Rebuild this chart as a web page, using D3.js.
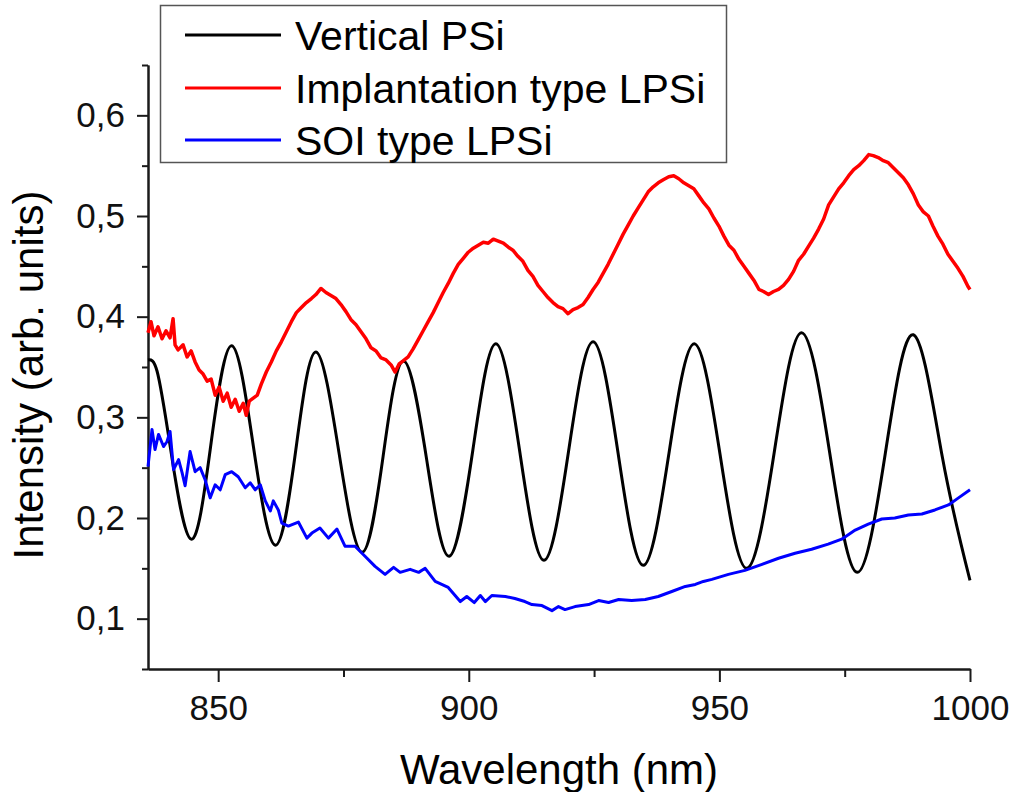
<!DOCTYPE html>
<html>
<meta charset="utf-8">
<head>
<style>
body { margin: 0; background: #fff; }
svg { font-family: "Liberation Sans", Arial, sans-serif; }
.axis path, .axis line { stroke: #1a1a1a; stroke-width: 2px; }
.axis text { fill: #111; font-size: 35px; font-family: "Liberation Sans", Arial, sans-serif; }
.series { fill: none; stroke-width: 3px; stroke-linejoin: round; }
</style>
</head>
<body>
<svg width="1011" height="792"></svg>

<script src="https://cdn.jsdelivr.net/npm/d3@7"></script>

<script>

// ticks
var xMajor = [850, 900, 950, 1000],
    xMinor = [875, 925, 975],
    yMajor = [0.1, 0.2, 0.3, 0.4, 0.5, 0.6],
    yMinor = [0.05, 0.15, 0.25, 0.35, 0.45, 0.55, 0.65];

var seriesNames = ["Vertical PSi", "Implantation type LPSi", "SOI type LPSi"],
    seriesColors = ["#000000", "#ff0000", "#0000ff"];

// Vertical PSi  [wavelength nm, intensity]
var verticalPSi = [
  [836.0,0.357],[837.8,0.346],[840.4,0.272],[844.6,0.179],[848.6,0.275],[852.7,0.371],
  [857.0,0.272],[861.4,0.173],[865.5,0.268],[869.5,0.365],[874.1,0.265],[878.7,0.166],
  [882.9,0.261],[887.0,0.356],[891.6,0.258],[896.1,0.162],[900.8,0.267],[905.4,0.373],
  [910.2,0.265],[915.0,0.158],[919.9,0.266],[924.8,0.375],[929.8,0.264],[934.8,0.153],
  [939.9,0.263],[945.0,0.373],[950.2,0.261],[955.5,0.150],[961.0,0.267],[966.4,0.384],
  [972.0,0.265],[977.5,0.146],[983.1,0.264],[988.7,0.382],[994.5,0.260],[1000,0.138]
];

// Implantation type LPSi
var implantLPSi = [
  [836.0,0.384],[836.6,0.395],[837.2,0.381],[838.0,0.390],[838.8,0.378],[839.6,0.386],
  [840.4,0.379],[841.0,0.398],[841.4,0.372],[842.0,0.367],[843.0,0.372],[843.8,0.360],
  [844.6,0.366],[845.4,0.355],[846.2,0.347],[847.0,0.343],[847.8,0.336],[848.6,0.338],
  [849.4,0.322],[850.2,0.330],[851.0,0.316],[851.8,0.324],[852.6,0.310],[853.4,0.318],
  [854.2,0.306],[855.0,0.314],[855.6,0.302],[856.2,0.316],[857.0,0.319],[857.8,0.322],
  [858.6,0.333],[859.6,0.345],[860.6,0.355],[861.6,0.366],[862.6,0.375],[863.6,0.385],
  [864.6,0.395],[865.6,0.404],[866.6,0.409],[867.6,0.414],[868.6,0.418],[869.5,0.422],
  [870.5,0.428],[871.5,0.424],[872.5,0.421],[873.5,0.418],[874.5,0.412],[875.5,0.405],
  [876.5,0.397],[877.5,0.392],[878.5,0.385],[879.5,0.378],[880.5,0.369],[881.5,0.366],
  [882.5,0.359],[883.5,0.357],[884.5,0.352],[885.3,0.345],[886.1,0.353],[886.9,0.356],
  [887.9,0.360],[888.9,0.368],[889.9,0.377],[890.9,0.386],[891.9,0.395],[892.9,0.404],
  [893.9,0.414],[894.9,0.424],[895.9,0.433],[896.9,0.443],[897.9,0.452],[898.9,0.458],
  [899.9,0.464],[900.9,0.468],[901.9,0.471],[902.9,0.474],[903.9,0.473],[904.9,0.477],
  [905.9,0.475],[906.9,0.473],[907.9,0.469],[908.8,0.466],[909.8,0.460],[910.8,0.455],
  [911.8,0.446],[912.8,0.440],[913.8,0.431],[914.8,0.425],[915.8,0.419],[916.8,0.414],
  [917.8,0.410],[918.8,0.408],[919.8,0.403],[920.8,0.407],[921.8,0.409],[922.8,0.412],
  [923.8,0.419],[924.8,0.427],[925.8,0.434],[926.8,0.443],[927.8,0.452],[928.8,0.462],
  [929.8,0.472],[930.8,0.482],[931.8,0.491],[932.8,0.500],[933.8,0.508],[934.8,0.516],
  [935.8,0.524],[936.8,0.529],[937.8,0.533],[938.8,0.536],[939.9,0.539],[940.9,0.540],
  [941.9,0.537],[942.9,0.533],[943.9,0.530],[944.9,0.527],[945.9,0.520],[946.9,0.513],
  [947.9,0.507],[948.9,0.498],[949.9,0.490],[950.9,0.480],[951.9,0.471],[952.9,0.466],
  [953.9,0.457],[954.9,0.450],[955.9,0.443],[956.9,0.436],[957.9,0.427],[958.8,0.425],
  [959.8,0.422],[960.8,0.425],[961.8,0.427],[962.8,0.431],[963.8,0.437],[964.8,0.445],
  [965.8,0.456],[966.8,0.462],[967.8,0.470],[968.8,0.478],[969.8,0.487],[970.8,0.497],
  [971.8,0.511],[972.8,0.519],[973.8,0.527],[974.8,0.533],[975.8,0.540],[976.8,0.546],
  [977.8,0.550],[978.8,0.555],[979.8,0.561],[980.7,0.560],[981.7,0.558],[982.7,0.555],
  [983.7,0.553],[984.7,0.548],[985.7,0.543],[986.7,0.538],[987.7,0.531],[988.7,0.522],
  [989.7,0.511],[990.7,0.504],[991.7,0.500],[992.6,0.490],[993.6,0.480],[994.6,0.472],
  [995.6,0.462],[996.6,0.455],[997.6,0.448],[998.6,0.440],[999.6,0.430],[1000,0.427]
];

// SOI type LPSi
var soiLPSi = [
  [836.0,0.251],[836.8,0.288],[837.4,0.268],[838.1,0.283],[839.1,0.271],[839.8,0.276],
  [840.4,0.286],[841.1,0.248],[842.1,0.258],[842.8,0.245],[843.4,0.232],[844.4,0.266],
  [845.4,0.246],[846.4,0.250],[847.4,0.238],[848.4,0.220],[849.4,0.233],[850.4,0.228],
  [851.4,0.243],[852.7,0.246],[854.0,0.241],[855.4,0.230],[856.4,0.235],[857.4,0.228],
  [858.4,0.233],[859.4,0.217],[860.4,0.207],[861.0,0.217],[862.0,0.208],[862.7,0.195],
  [864.0,0.192],[866.0,0.196],[867.7,0.180],[868.7,0.185],[870.3,0.190],[872.0,0.180],
  [873.7,0.189],[875.3,0.172],[877.3,0.172],[879.3,0.162],[881.3,0.152],[883.3,0.144],
  [885.0,0.151],[886.3,0.146],[888.3,0.149],[890.0,0.146],[891.3,0.150],[893.3,0.137],
  [895.9,0.131],[898.3,0.117],[899.6,0.122],[901.1,0.116],[902.3,0.123],[903.3,0.117],
  [904.6,0.123],[907.3,0.122],[909.2,0.120],[911.2,0.117],[912.6,0.114],[914.6,0.113],
  [916.6,0.108],[917.9,0.112],[919.2,0.109],[921.2,0.112],[923.9,0.114],[925.9,0.118],
  [927.9,0.116],[929.9,0.119],[932.5,0.118],[935.2,0.119],[937.8,0.122],[940.5,0.127],
  [943.2,0.132],[945.2,0.134],[946.8,0.137],[948.5,0.139],[951.8,0.144],[955.1,0.148],
  [958.5,0.154],[961.8,0.160],[965.1,0.165],[968.4,0.169],[971.7,0.174],[974.4,0.179],
  [977.1,0.188],[979.7,0.194],[982.4,0.199],[985.0,0.200],[987.7,0.203],[990.4,0.204],
  [993.0,0.208],[995.7,0.213],[997.7,0.220],[1000,0.228]
];

var svg = d3.select("svg");

var x = d3.scaleLinear().domain([836, 1000]).range([148, 970]);
var y = d3.scaleLinear().domain([0.05, 0.65]).range([669, 65]);

var comma = function(d) { return d3.format(".1f")(d).replace(".", ","); };

// minor ticks first
svg.append("g")
    .attr("class", "axis")
    .attr("transform", "translate(0,669)")
    .call(d3.axisBottom(x).tickValues(xMinor).tickSize(8).tickSizeOuter(0).tickFormat(""));
svg.append("g")
    .attr("class", "axis")
    .attr("transform", "translate(148,0)")
    .call(d3.axisLeft(y).tickValues(yMinor).tickSize(6).tickSizeOuter(0).tickFormat(""));

svg.append("g")
    .attr("class", "axis")
    .attr("transform", "translate(0,669)")
    .call(d3.axisBottom(x).tickValues(xMajor).tickSize(13).tickSizeOuter(0).tickPadding(13)
        .tickFormat(d3.format("d")));
svg.append("g")
    .attr("class", "axis")
    .attr("transform", "translate(148,0)")
    .call(d3.axisLeft(y).tickValues(yMajor).tickSize(11).tickSizeOuter(0).tickPadding(12).tickFormat(comma));

// curves
var line = d3.line()
    .x(function(d) { return x(d[0]); })
    .y(function(d) { return y(d[1]); });

svg.append("path")
    .datum(verticalPSi)
    .attr("class", "series")
    .attr("stroke", seriesColors[0])
    .attr("d", line.curve(d3.curveNatural));

svg.append("path")
    .datum(implantLPSi)
    .attr("class", "series")
    .attr("stroke", seriesColors[1])
    .style("stroke-width", "3.5px")
    .attr("d", line.curve(d3.curveLinear));

svg.append("path")
    .datum(soiLPSi)
    .attr("class", "series")
    .attr("stroke", seriesColors[2])
    .attr("d", line.curve(d3.curveLinear));

// axis titles
svg.append("text")
    .attr("x", 559)
    .attr("y", 784)
    .attr("text-anchor", "middle")
    .style("font-size", "42px")
    .text("Wavelength (nm)");

svg.append("text")
    .attr("transform", "translate(43,375) rotate(-90)")
    .attr("text-anchor", "middle")
    .style("font-size", "42px")
    .text("Intensity (arb. units)");

// legend
var legend = svg.append("g");
legend.append("rect")
    .attr("x", 160.5).attr("y", 5.5)
    .attr("width", 566).attr("height", 157)
    .attr("fill", "#fff")
    .attr("stroke", "#555")
    .attr("stroke-width", 1.5);

var rows = legend.selectAll("g.row")
    .data(seriesNames)
    .enter().append("g")
    .attr("transform", function(d, i) { return "translate(0," + [35, 88, 140][i] + ")"; });

rows.append("line")
    .attr("x1", 185).attr("x2", 281)
    .attr("stroke", function(d, i) { return seriesColors[i]; })
    .attr("stroke-width", 3);

rows.append("text")
    .attr("x", 295)
    .attr("y", 15)
    .style("font-size", "41px")
    .text(function(d) { return d; });

</script>
</body>
</html>
